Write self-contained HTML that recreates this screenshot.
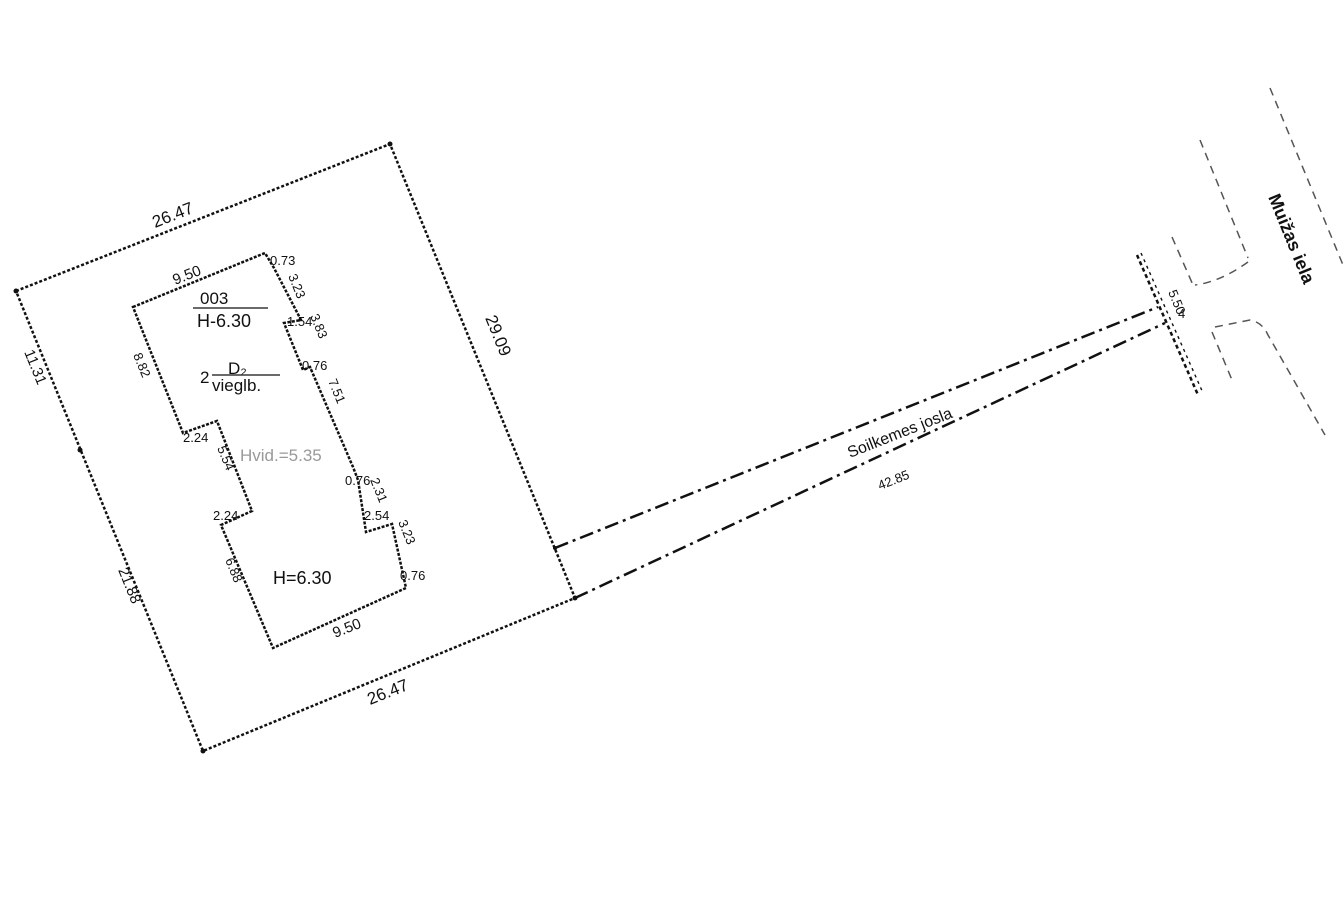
<!DOCTYPE html>
<html><head><meta charset="utf-8"><style>
html,body{margin:0;padding:0;background:#fff;}
svg{display:block;}
text{font-family:"Liberation Sans",sans-serif;fill:#111;}
</style></head><body>
<svg width="1343" height="898" viewBox="0 0 1343 898" xmlns="http://www.w3.org/2000/svg">
<g fill="none" stroke="#111" stroke-width="2.5">
<polygon points="16,291 390,144 575,598 203,751" stroke-dasharray="3,2"/>
<polygon points="133,307 265,253 274,268 301,320 284,323 303,370 310,367 353,467 358,480 366,532 392,524 406,588 273,648 221,525 252,511 217,421 183,433" stroke-dasharray="3,1.5"/>
<polyline points="555,548 1158,307" stroke-dasharray="14,5,3,5"/>
<polyline points="575,598 1165,323" stroke-dasharray="14,5,3,5"/>
<line x1="1137" y1="255" x2="1198" y2="395" stroke-dasharray="4,3"/>
<line x1="1141" y1="253" x2="1203" y2="393" stroke-dasharray="3,4" stroke-width="1.4"/>
</g>
<g fill="none" stroke="#555" stroke-width="1.5" stroke-dasharray="8,6">
<line x1="1270" y1="88" x2="1343" y2="265"/>
<line x1="1200" y1="140" x2="1248" y2="258"/>
<path d="M1248,262 Q1220,282 1195,285"/>
<line x1="1172" y1="237" x2="1193" y2="285"/>
<path d="M1215,327 L1250,320 Q1262,322 1268,335 L1325,435"/>
<line x1="1212" y1="332" x2="1232" y2="380"/>
</g>
<g fill="#111">
<circle cx="16" cy="291" r="2.5"/><circle cx="390" cy="144" r="2.5"/><circle cx="575" cy="598" r="2.5"/><circle cx="203" cy="751" r="2.5"/><circle cx="80" cy="450" r="2.5"/><circle cx="555" cy="548" r="2"/>
</g>
<g font-size="17">
<text transform="translate(155,228) rotate(-21.5)">26.47</text>
<text transform="translate(370,705) rotate(-21.5)">26.47</text>
<text transform="translate(485,318) rotate(67.8)">29.09</text>
<text transform="translate(24,352) rotate(67.8)" font-size="15">11.31</text>
<text transform="translate(118,570) rotate(67.8)" font-size="15">21.88</text>
<text transform="translate(175,285) rotate(-21.5)" font-size="15">9.50</text>
<text transform="translate(335,638) rotate(-21.5)" font-size="15">9.50</text>
<text x="200" y="304">003</text>
<line x1="193" y1="308" x2="268" y2="308" stroke="#111" stroke-width="1.2"/>
<text x="197" y="327" font-size="18">H-6.30</text>
<text x="200" y="383">2</text>
<text x="228" y="374">D₂</text>
<line x1="212" y1="375" x2="280" y2="375" stroke="#111" stroke-width="1.2"/>
<text x="212" y="391">vieglb.</text>
<text x="240" y="461" style="fill:#999">Hvid.=5.35</text>
<text x="273" y="584" font-size="18">H=6.30</text>
<g font-size="13">
<text x="270" y="265">0.73</text>
<text transform="translate(288,276) rotate(67.8)">3.23</text>
<text x="287" y="326">1.54</text>
<text transform="translate(310,316) rotate(67.8)">3.83</text>
<text x="302" y="370">0.76</text>
<text transform="translate(328,381) rotate(67.8)">7.51</text>
<text transform="translate(133,355) rotate(67.8)">8.82</text>
<text x="183" y="442">2.24</text>
<text transform="translate(217,448) rotate(67.8)">5.54</text>
<text x="213" y="520">2.24</text>
<text transform="translate(225,560) rotate(67.8)">6.88</text>
<text x="345" y="485">0.76</text>
<text transform="translate(370,480) rotate(67.8)">2.31</text>
<text x="364" y="520">2.54</text>
<text transform="translate(398,522) rotate(67.8)">3.23</text>
<text x="400" y="580">0.76</text>
<text transform="translate(1168,292) rotate(67.8)">5.50</text>
<text x="1178" y="318">4</text>
<text transform="translate(880,490) rotate(-21.5)">42.85</text>
</g>
<text transform="translate(850,458) rotate(-21.5)" font-size="16">Soilkemes josla</text>
<text transform="translate(1268,197) rotate(67.8)" font-size="18" font-weight="bold">Muižas iela</text>
</g>
</svg>
</body></html>
